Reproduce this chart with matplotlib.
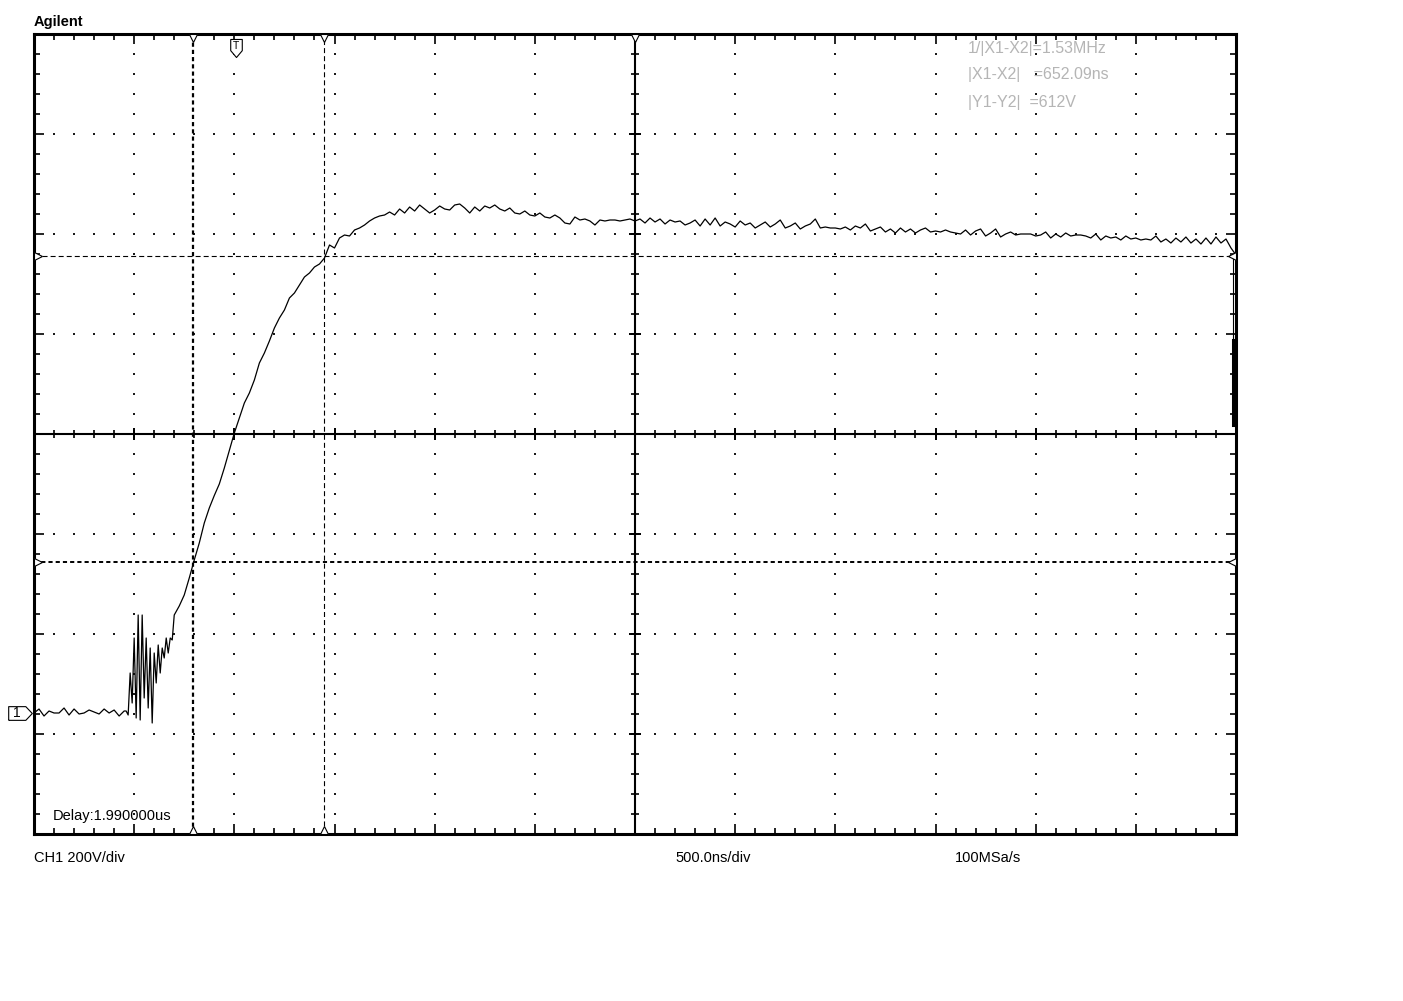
import numpy as np
import matplotlib.pyplot as plt
from matplotlib import transforms

plt.rcParams['font.family'] = ['Liberation Sans', 'DejaVu Sans']
plt.rcParams['lines.scale_dashes'] = False

# scope settings
T_DIV = 500.0          # ns/div
V_DIV = 200.0          # V/div
N_XDIV, N_YDIV = 12, 8
V_BOTTOM = -242.0      # bottom of screen, volts relative to CH1 ground

# trace (volts), three stretches with their own spacing
pre_v = [0, 8, -6, 4, 0, 0, 10, -4, 8, -2, 0, 6, 2, -2, 8, 0, 6, -6, 4]      # 0..450 ns, 25 ns
burst_v = [4, -4, 80, 20, 150, -10, 196, -14, 196, 30, 150, 10, 130, -20,
           120, 60, 136, 80, 130, 110, 150, 120, 150, 146]                    # 460..690 ns, 10 ns
main_v = [196, 214, 236, 270, 306, 340,
          380, 410, 435, 458, 490, 525, 560, 590, 620,
          640, 666, 700, 720, 744, 770, 790, 806, 830, 840, 856, 872, 880, 892, 898,
          910, 936, 930, 950, 956, 954, 966, 970, 976, 984, 990, 994, 996, 1002, 996,
          1008, 1000, 1012, 1004, 1016, 1008, 1000, 1006, 1014, 1008, 1006, 1016, 1018, 1010, 1000,
          1012, 1004, 1014, 1010, 1016, 1008, 1004, 1010, 1000, 998, 1004, 996, 994, 1000, 992,
          990, 996, 990, 980, 978, 992, 986, 988, 984, 976, 986, 984, 986, 986, 984,
          986, 988, 984, 988, 980, 990, 982, 988, 978, 986, 982, 984, 976, 980, 986,
          974, 988, 976, 990, 974, 982, 978, 972, 984, 976, 980, 970, 976, 982, 972,
          978, 986, 970, 974, 980, 968, 974, 978, 988, 970, 972, 970, 970, 968, 972,
          966, 974, 970, 978, 964, 968, 972, 962, 968, 960, 970, 962, 968, 960, 966,
          970, 962, 964, 962, 966, 962, 960, 958, 966, 956, 964, 968, 954, 960, 968,
          952, 958, 962, 956, 958, 958, 958, 954, 956, 962, 950, 958, 952, 960, 954,
          956, 956, 954, 950, 958, 946, 954, 950, 952, 946, 954, 948, 950, 946, 948,
          946, 954, 942, 948, 940, 950, 942, 952, 940, 948, 938, 950, 938, 952, 940,
          948, 930, 916]                                                      # 700 ns .., 25 ns

trace_t = np.concatenate([np.arange(len(pre_v)) * 25.0,
                          460 + np.arange(len(burst_v)) * 10.0,
                          700 + np.arange(len(main_v)) * 25.0])
trace_v = np.array(pre_v + burst_v + main_v, dtype=float)

# cursors / markers
x1_ns, x2_ns = 794.0, 1446.09
y1_v, y2_v = 914.0, 302.0
trig_ns = 1008.0
tail_ns = 5983.0
tail_v = [916, 576]
tail_thick_v = [746, 576]

W, H = 1403, 1001
fig = plt.figure(figsize=(W / 100, H / 100), dpi=100)
fig.patch.set_facecolor('white')
ax = fig.add_axes([34 / W, 167 / H, 1202 / W, 800 / H])

x0, x_end = 0.0, N_XDIV * T_DIV
y0, y_end = V_BOTTOM, V_BOTTOM + N_YDIV * V_DIV
ax.set_xlim(x0, x_end)
ax.set_ylim(y0, y_end)

# border + ticks
for s in ax.spines.values():
    s.set_linewidth(2.2)
ax.set_xticks(np.arange(0, N_XDIV + 1) * T_DIV)
ax.set_xticks(np.arange(0, N_XDIV * 5 + 1) * T_DIV / 5, minor=True)
ax.set_yticks(y0 + np.arange(0, N_YDIV + 1) * V_DIV)
ax.set_yticks(y0 + np.arange(0, N_YDIV * 5 + 1) * V_DIV / 5, minor=True)
ax.tick_params(which='both', direction='in', top=True, right=True,
               labelbottom=False, labelleft=False, width=1.2, color='black')
ax.tick_params(which='major', length=7)
ax.tick_params(which='minor', length=4.5)

# dotted graticule
xc = x0 + N_XDIV / 2 * T_DIV
yc = y0 + N_YDIV / 2 * V_DIV
fine_x = np.arange(1, N_XDIV * 5) * T_DIV / 5
fine_y = y0 + np.arange(1, N_YDIV * 5) * V_DIV / 5
for k in range(1, N_XDIV):
    if k == N_XDIV // 2:
        continue
    ax.plot(np.full_like(fine_y, k * T_DIV), fine_y, ls='none', marker='s',
            ms=1.5, color='#1a1a1a', mew=0)
for k in range(1, N_YDIV):
    if k == N_YDIV // 2:
        continue
    ax.plot(fine_x, np.full_like(fine_x, y0 + k * V_DIV), ls='none', marker='s',
            ms=1.5, color='#1a1a1a', mew=0)

# centre cross with ticks
ax.axvline(xc, color='black', lw=1.5)
ax.axhline(yc, color='black', lw=1.5)
ax.plot(fine_x, np.full_like(fine_x, yc), ls='none', marker='|', ms=6, mew=1.2, color='black')
ax.plot(np.full_like(fine_y, xc), fine_y, ls='none', marker='_', ms=6, mew=1.2, color='black')
maj_x = np.arange(1, N_XDIV) * T_DIV
maj_y = y0 + np.arange(1, N_YDIV) * V_DIV
ax.plot(maj_x, np.full_like(maj_x, yc), ls='none', marker='|', ms=9, mew=1.4, color='black')
ax.plot(np.full_like(maj_y, xc), maj_y, ls='none', marker='_', ms=9, mew=1.4, color='black')

# cursors
ax.axvline(x1_ns, color='black', lw=1.6, dashes=(3.0, 2.2))
ax.axvline(x2_ns, color='black', lw=0.8, dashes=(3.6, 2.2))
ax.axhline(y1_v, color='black', lw=0.8, dashes=(3.6, 2.2))
ax.axhline(y2_v, color='black', lw=1.4, dashes=(3.0, 2.2))

down = transforms.offset_copy(ax.transData, fig=fig, x=0, y=-4, units='dots')
up = transforms.offset_copy(ax.transData, fig=fig, x=0, y=4, units='dots')
right = transforms.offset_copy(ax.transData, fig=fig, x=4, y=0, units='dots')
left = transforms.offset_copy(ax.transData, fig=fig, x=-4, y=0, units='dots')
tri = dict(ls='none', ms=5.5, mfc='white', mec='black', mew=0.8, clip_on=False, zorder=5)
for xv in (x1_ns, x2_ns, xc):
    ax.plot([xv], [y_end], marker='v', transform=down, **tri)
for xv in (x1_ns, x2_ns):
    ax.plot([xv], [y0], marker='^', transform=up, **tri)
for yv in (y1_v, y2_v):
    ax.plot([x0], [yv], marker='>', transform=right, **tri)
    ax.plot([x_end], [yv], marker='<', transform=left, **tri)

# trigger marker
shield = [(-0.32, 0.5), (0.32, 0.5), (0.32, -0.12), (0, -0.5), (-0.32, -0.12), (-0.32, 0.5)]
trig_tr = transforms.offset_copy(ax.transData, fig=fig, x=0, y=-14, units='dots')
ax.plot([trig_ns], [y_end], marker=shield, ms=13, mfc='white', mec='black', mew=0.8,
        transform=trig_tr, clip_on=False, zorder=6)
ax.text(trig_ns, y_end, 'T', transform=transforms.offset_copy(ax.transData, fig=fig, x=0, y=-12, units='dots'),
        ha='center', va='center', fontsize=7.5, zorder=7)

# ground marker
pent = [(-1, -0.58), (0.45, -0.58), (1, 0), (0.45, 0.58), (-1, 0.58), (-1, -0.58)]
gnd_tr = transforms.offset_copy(ax.transData, fig=fig, x=-14, y=0, units='dots')
ax.plot([x0], [0], marker=pent, ms=17, mfc='white', mec='black', mew=0.8,
        transform=gnd_tr, clip_on=False, zorder=6)
ax.text(x0, 0, '1', transform=transforms.offset_copy(ax.transData, fig=fig, x=-17, y=0, units='dots'),
        ha='center', va='center', fontsize=10, zorder=7)

# trace
ax.plot(trace_t, trace_v, color='black', lw=0.9, zorder=4)
ax.plot([tail_ns, tail_ns], tail_v, color='black', lw=0.8, zorder=4)
ax.plot([tail_ns, tail_ns], tail_thick_v, color='black', lw=2.2, zorder=4)

# texts
def ftext(px, py, s, **kw):
    fig.text(px / W, 1 - py / H, s, va='center', **kw)

ftext(34, 22, 'Agilent', fontsize=10.5, fontweight='bold')
meas = '#b5b5b5'
ftext(968, 48, '1/|X1-X2|=1.53MHz', fontsize=11.5, color=meas)
ftext(968, 75, '|X1-X2|   =652.09ns', fontsize=11.5, color=meas)
ftext(968, 102, '|Y1-Y2|  =612V', fontsize=11.5, color=meas)
ftext(53, 816, 'Delay:1.990000us', fontsize=10.5)
ftext(34, 858, 'CH1 200V/div', fontsize=10.5)
ftext(675, 858, '500.0ns/div', fontsize=10.5)
ftext(955, 858, '100MSa/s', fontsize=10.5)

fig.savefig('out.png', dpi=100)
